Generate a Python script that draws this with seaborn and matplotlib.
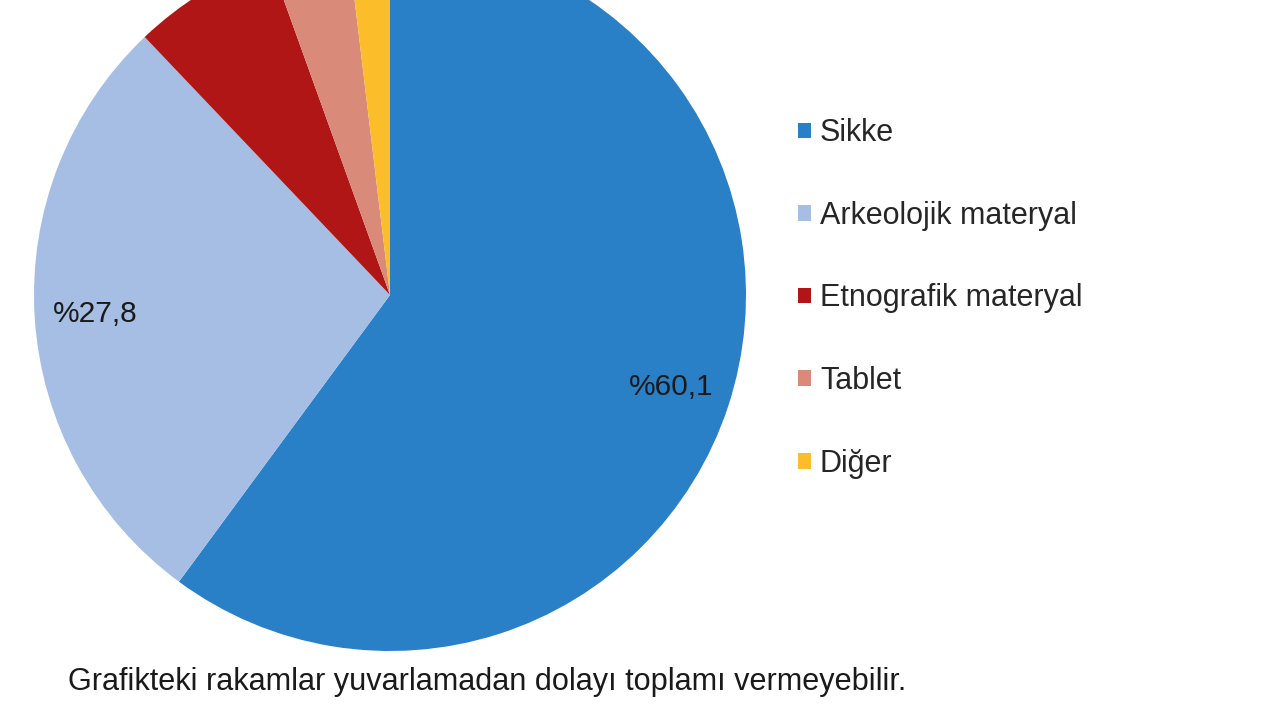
import matplotlib
matplotlib.use("Agg")
import matplotlib.pyplot as plt
import seaborn as sns

# data (percent)
categories = ["Sikke", "Arkeolojik materyal", "Etnografik materyal", "Tablet", "Diğer"]
shares = [60.1, 27.8, 6.6, 3.6, 1.9]
colors = ["#2A80C6", "#A6BEE3", "#B01616", "#D98A78", "#FBBE2A"]
note = "Grafikteki rakamlar yuvarlamadan dolayı toplamı vermeyebilir."

sns.set_theme(style="white")
plt.rcParams['font.family'] = ['Liberation Sans', 'DejaVu Sans']
palette = sns.color_palette(colors)

fig = plt.figure(figsize=(12.8, 7.2), dpi=100)
ax = fig.add_axes([0, 0, 1, 1])


def pct_label(p):
    # only the two big slices carry a label
    return ("%" + f"{p:.1f}".replace(".", ",")) if p > 20 else ""


wedges, texts, autotexts = ax.pie(
    shares, colors=palette, startangle=90, counterclock=False,
    center=(390, 425), radius=356, autopct=pct_label, pctdistance=0.83,
    textprops=dict(fontsize=21.5, color="#1a1a1a"), frame=True,
    wedgeprops=dict(linewidth=0),
)
ax.set_xlim(0, 1280)
ax.set_ylim(0, 720)
ax.set_aspect("equal")
ax.axis("off")

fig.legend(wedges, categories, loc="center left", bbox_to_anchor=(0.6115, 0.5855),
           frameon=False, fontsize=22, handlelength=0.42, handleheight=0.42,
           handletextpad=0.3, labelspacing=1.72, borderpad=0)

fig.text(68 / 1280, 1 - 682 / 720, note, fontsize=22.1, color="#1a1a1a",
         va="center", ha="left")

fig.savefig("out.png", dpi=100)
